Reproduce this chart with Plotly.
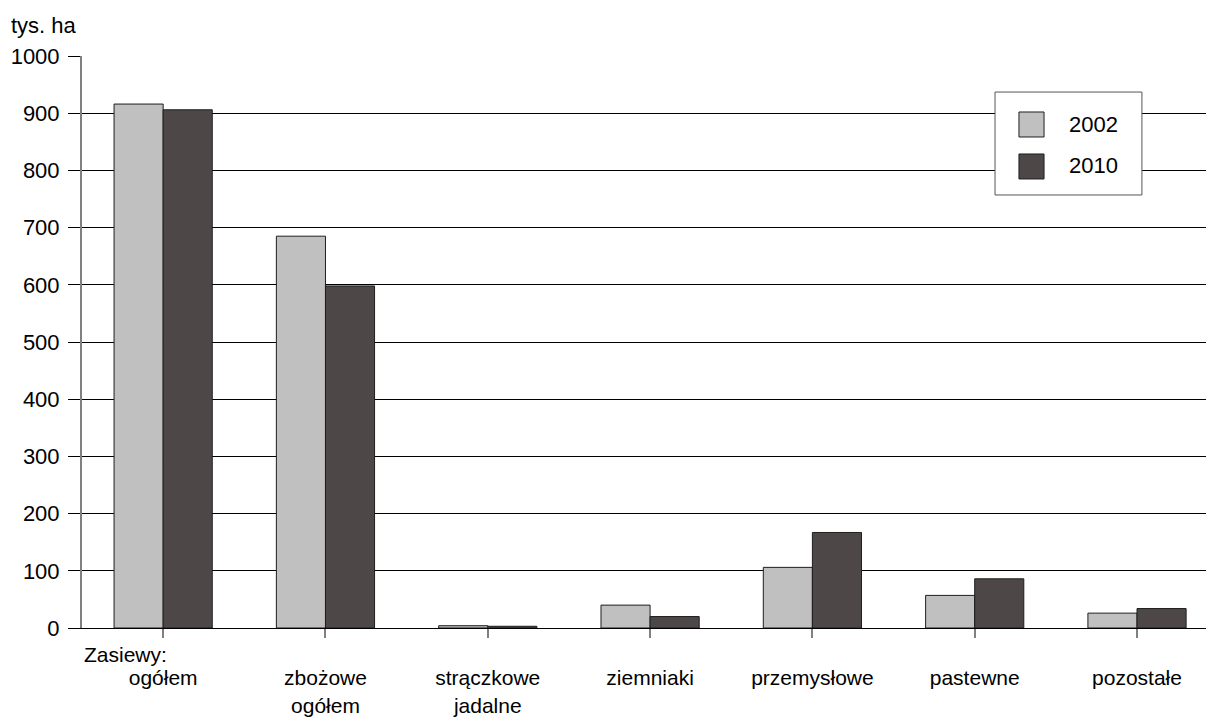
import plotly.graph_objects as go

categories = ["ogółem", "zbożowe<br>ogółem", "strączkowe<br>jadalne", "ziemniaki",
              "przemysłowe", "pastewne", "pozostałe"]
values_2002 = [916, 685, 4, 40, 106, 57, 26]
values_2010 = [906, 598, 3, 20, 167, 86, 34]
series_names = ["2002", "2010"]
y_ticks = [0, 100, 200, 300, 400, 500, 600, 700, 800, 900, 1000]

FONT = "Liberation Sans, Arial, sans-serif"
FS = 22
LIGHT = "#c0c0c0"
DARK = "#4d4847"
idx = list(range(len(categories)))

fig = go.Figure()
fig.add_trace(go.Bar(x=idx, y=values_2002, name=series_names[0], marker_color=LIGHT,
                     marker_line=dict(color="#1e1e1e", width=1), showlegend=False))
fig.add_trace(go.Bar(x=idx, y=values_2010, name=series_names[1], marker_color=DARK,
                     marker_line=dict(color="#1e1e1e", width=1), showlegend=False))

fig.update_layout(
    width=1206, height=720, autosize=False,
    paper_bgcolor="white", plot_bgcolor="white",
    margin=dict(l=82, r=0, t=56, b=92, autoexpand=False),
    barmode="group", bargap=0.395, bargroupgap=0,
    font=dict(family=FONT, size=FS, color="#000"),
)
fig.update_xaxes(
    range=[-0.5, 6.425], tickmode="array", tickvals=idx, ticktext=categories,
    tickson="boundaries", ticks="outside", ticklen=9, tickcolor="#808080", tickwidth=2,
    showline=True, linecolor="#000", linewidth=1, showgrid=False, automargin=False,
    ticklabelstandoff=22, tickfont=dict(size=21, family=FONT),
)
fig.update_yaxes(
    range=[0, 1000], tickmode="array", tickvals=y_ticks,
    ticks="outside", ticklen=12, tickcolor="#000", tickwidth=1,
    showgrid=True, gridcolor="#000", gridwidth=1, automargin=False,
    showline=True, linecolor="#808080", linewidth=2, zeroline=False,
    tickfont=dict(size=FS, family=FONT), ticklabelstandoff=4,
)

# "tys. ha" unit label and "Zasiewy:" prefix
fig.add_annotation(text="tys. ha", xref="paper", yref="paper", x=-0.065, y=1.054,
                   xanchor="left", yanchor="middle", showarrow=False, font=dict(size=FS))
fig.add_annotation(text="Zasiewy:", xref="paper", yref="paper", x=0.0, y=-0.0472,
                   xanchor="left", yanchor="middle", showarrow=False, font=dict(size=21))

# custom legend
fig.add_shape(type="rect", xref="paper", yref="paper", x0=0.8123, x1=0.943, y0=0.757, y1=0.937,
              fillcolor="white", line=dict(color="#555", width=1), layer="above")
for name, color, y0, y1, yt in [(series_names[0], LIGHT, 0.8584, 0.9021, 0.8794),
                                (series_names[1], DARK, 0.785, 0.8287, 0.8077)]:
    fig.add_shape(type="rect", xref="paper", yref="paper", x0=0.8336, x1=0.8559, y0=y0, y1=y1,
                  fillcolor=color, line=dict(color="#1e1e1e", width=1), layer="above")
    fig.add_annotation(text=name, xref="paper", yref="paper", x=0.876, y=yt,
                       xanchor="left", yanchor="middle", showarrow=False, font=dict(size=FS))

fig.write_html("out.html", config={"displayModeBar": False},
               post_script="document.body.style.margin='0';document.body.style.overflow='hidden';")
